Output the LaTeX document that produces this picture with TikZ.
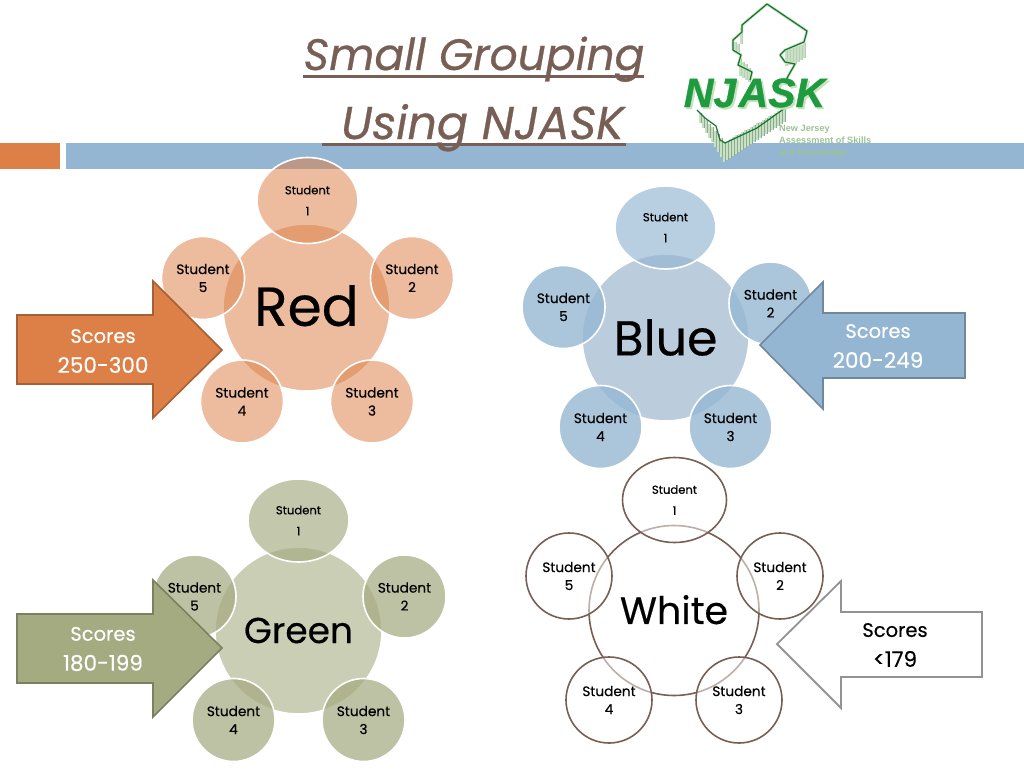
\documentclass[tikz,border=0pt]{standalone}
\usepackage{fontspec}
\usetikzlibrary{shapes.geometric}
\setmainfont[FakeBold=0.3]{Poppins}
\newfontfamily\titlefont[ItalicFeatures={FakeBold=0.6}]{Poppins}
\newfontfamily\logofont{Liberation Sans}
\newfontfamily\logoheavy[BoldItalicFeatures={FakeBold=1}]{Liberation Sans}
\definecolor{cOrange}{HTML}{DD8047}
\definecolor{cBlue}{HTML}{94B6D2}
\definecolor{cBlueHub}{HTML}{8FADC6}
\definecolor{cGreen}{HTML}{A5AB81}
\definecolor{cBrown}{HTML}{775F55}
\definecolor{cLogo}{HTML}{1F9A3F}
\definecolor{cLogoLt}{HTML}{C6E2BF}
\definecolor{cLogoMid}{HTML}{8FA899}
\definecolor{cLogoTx}{HTML}{9CC393}
\newcommand{\fz}[2]{\fontsize{#1}{#2}\selectfont}
\newcommand{\scoretext}[2]{{\fz{19.5}{30}#1}\\{\fz{21.5}{30}#2}}
\tikzset{
  x=1pt,y=-1pt,
  hubbase/.style={circle,minimum size=167pt,inner sep=0pt,align=center,text=black,text opacity=1,draw opacity=1},
  petal/.style={ellipse,minimum width=83pt,minimum height=83pt,inner sep=0pt,align=center,text=black,text opacity=1,draw opacity=1,font=\fz{13.7}{18}},
  toppetal/.style={ellipse,minimum width=101pt,minimum height=83pt,inner sep=0pt,align=center,text=black,text opacity=1,draw opacity=1,font=\fz{11.6}{21}},
  redset/.style={fill=cOrange,fill opacity=.52,draw=white,line width=1.6pt},
  bluehub/.style={fill=cBlueHub,fill opacity=.6,draw=white,line width=1.6pt},
  blueset/.style={fill=cBlue,fill opacity=#1,draw=white,line width=1.6pt},
  greenhub/.style={fill=cGreen,fill opacity=.58,draw=white,line width=1.6pt},
  greenset/.style={fill=cGreen,fill opacity=#1,draw=white,line width=1.6pt},
  whiteset/.style={fill=white,fill opacity=.5,draw=cBrown,line width=1.6pt},
  arrowtext/.style={align=center,text=#1,font=\fz{20}{30}},
  titletext/.style={text=cBrown,anchor=base,inner sep=0pt},
  titlerule/.style={draw=cBrown,line width=3pt},
  band/.style={fill=#1,draw=none},
  blockarrow/.style={fill=#1,draw=#1!75!black,line width=1.6pt,line join=miter},
  nj/.style={draw=cLogo!75!black,line width=1.2pt,line join=round},
  njhalo/.style={draw=cLogoLt,line width=2.8pt,line join=round},
  stripe/.style={draw=#1,line width=1.1pt},
  logotext/.style={text=cLogoTx,anchor=base west,inner sep=0pt,font=\logofont\bfseries\fz{9.2}{10}},
  logoword/.style={font=\logoheavy\bfseries\itshape\fz{41}{41},anchor=base,inner sep=0pt},
}
\begin{document}
\begin{tikzpicture}
\useasboundingbox (0,0) rectangle (1024,768);
\fill[white] (0,0) rectangle (1024,768);
% bands
\path[band=cOrange] (0,143) rectangle (60,169);
\path[band=cBlue] (66,143) rectangle (1024,169);
% title
\draw[titlerule] (303,76) -- (644,76);
\draw[titlerule] (322,144) -- (626,144);
\node[titletext,font=\titlefont\itshape\fz{44}{44}] (title1) at (474,70) {Small Grouping};
\node[titletext,font=\titlefont\itshape\fz{46}{46}] (title2) at (482.5,139) {Using NJASK};
% logo
\foreach \x in {700,703,...,784}{
  \pgfmathsetmacro{\ytop}{\x<723 ? 113+(\x-700)*1.17 : 143-(\x-723)*0.58}
  \pgfmathsetmacro{\ybot}{\ytop+(\x<723 ? 10+(\x-700)*0.45 : 20-(\x-723)*0.1)}
  \draw[stripe=cLogoLt] (\x,\ytop) -- (\x,\ybot);
  \draw[stripe=cLogoMid] (\x+1.5,\ytop) -- (\x+1.5,\ybot);
}
\foreach \x/\a/\b in {786/50/66,789/49/65,792/48/64,795/47/64,798/46/62,801/45/60,804/43/58,
  740/58/76,743/62/78,746/64/80,749/68/82,735/42/52,738/44/54,741/28/44}{
  \draw[stripe=cLogoLt] (\x,\a) -- (\x,\b);
  \draw[stripe=cLogoMid!60!white] (\x+1.5,\a) -- (\x+1.5,\b);
}
\draw[njhalo] (787,84) -- (787,78) -- (795,64) -- (785,62) -- (780,55) -- (785,50) -- (804,42) -- (807,31) -- (767,4) -- (742,25) -- (742,32) -- (733,40) -- (733,50) -- (741,55) -- (738,65) -- (752,72) -- (750,80);
\draw[nj] (787,84) -- (787,78) -- (795,64) -- (785,62) -- (780,55) -- (785,50) -- (804,42) -- (807,31) -- (767,4) -- (742,25) -- (742,32) -- (733,40) -- (733,50) -- (741,55) -- (738,65) -- (752,72) -- (750,80);
\draw[nj] (785,108) -- (757,128) -- (725,143) -- (720,140) -- (716,126) -- (705,118) -- (697,110);
\node[logoword,text=cLogoLt] (logoshadow) at (756.5,109) {NJ\kern-9pt\ ASK};
\node[logoword,text=cLogo] (logomain) at (754.5,107) {NJ\kern-9pt\ ASK};
\node[logotext] (l1) at (779,131) {New Jersey};
\node[logotext] (l2) at (779,143) {Assessment of Skills};
\node[logotext] (l3) at (779,155) {and Knowledge};
% red
\node[hubbase,redset,font=\fz{55}{55}] (rh) at (306.5,307.5) {\raisebox{4pt}{Red}};
\node[toppetal,redset,minimum height=86pt] (r1) at (307.5,200.5) {Student\\1};
\node[petal,redset] (r2) at (412,278) {Student\\2};
\node[petal,redset] (r3) at (372,401.5) {Student\\3};
\node[petal,redset] (r4) at (242,401.5) {Student\\4};
\node[petal,redset] (r5) at (203,278) {Student\\5};
\draw[blockarrow=cOrange] (17,315) -- (153,315) -- (153,281) -- (222,350) -- (153,418) -- (153,384) -- (17,384) -- cycle;
\node[arrowtext=white] (ra) at (103,351) {\scoretext{Scores}{250-300}};
% blue
\node[hubbase,bluehub,font=\fz{49}{49}] (bh) at (665.5,337.5) {Blue};
\node[toppetal,blueset=.66] (b1) at (665.5,227.5) {Student\\1};
\node[petal,blueset=.78] (b2) at (770.5,303.5) {Student\\2};
\node[petal,blueset=.78] (b3) at (730.5,427) {Student\\3};
\node[petal,blueset=.78] (b4) at (600.5,427) {Student\\4};
\node[petal,blueset=.78] (b5) at (563.5,307) {Student\\5};
\draw[blockarrow=cBlue] (965,313) -- (823,313) -- (823,282) -- (760,345) -- (823,409) -- (823,378) -- (965,378) -- cycle;
\node[arrowtext=white] (ba) at (878,346) {\scoretext{Scores}{200-249}};
% green
\node[hubbase,greenhub,font=\fz{36}{36}] (gh) at (298.5,630.5) {Green};
\node[toppetal,greenset=.66] (g1) at (298.5,520.5) {Student\\1};
\node[petal,greenset=.72] (g2) at (404.5,596.5) {Student\\2};
\node[petal,greenset=.72] (g3) at (363.5,720) {Student\\3};
\node[petal,greenset=.72] (g4) at (233.5,720) {Student\\4};
\node[petal,greenset=.72] (g5) at (194.5,596.5) {Student\\5};
\draw[blockarrow=cGreen] (17,614) -- (153,614) -- (153,580) -- (222,648) -- (153,717) -- (153,683) -- (17,683) -- cycle;
\node[arrowtext=white] (ga) at (103,649) {\scoretext{Scores}{180-199}};
% white
\node[hubbase,whiteset,minimum size=170pt,font=\fz{38}{38}] (wh) at (674,610.5) {\raisebox{2pt}{White}};
\node[toppetal,whiteset,minimum width=104pt,minimum height=85pt] (w1) at (674.5,500) {Student\\1};
\node[petal,whiteset,minimum width=86pt,minimum height=86pt] (w2) at (780,576) {Student\\2};
\node[petal,whiteset,minimum width=86pt,minimum height=86pt] (w3) at (739,700) {Student\\3};
\node[petal,whiteset,minimum width=86pt,minimum height=86pt] (w4) at (609,700) {Student\\4};
\node[petal,whiteset,minimum width=86pt,minimum height=86pt] (w5) at (569,576) {Student\\5};
\draw[fill=white,draw=gray!85,line width=1.8pt,line join=miter] (982,612) -- (841,612) -- (841,581) -- (777,644) -- (841,708) -- (841,677) -- (982,677) -- cycle;
\node[arrowtext=black] (wa) at (895,645) {\scoretext{Scores}{<179}};
\end{tikzpicture}
\end{document}
